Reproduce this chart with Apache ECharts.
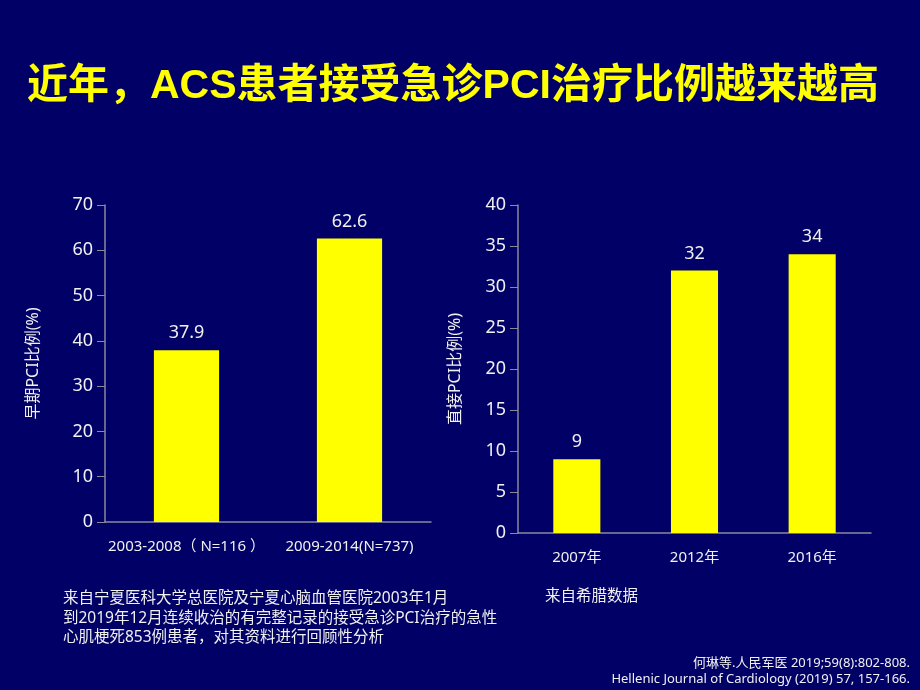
<!DOCTYPE html>
<html><head><meta charset="utf-8">
<script src="https://cdn.jsdelivr.net/npm/echarts@6/dist/echarts.min.js"></script>
<style>html,body{margin:0;padding:0;background:#000066;}#c{width:920px;height:690px;}</style>
</head><body><div id="c"></div>
<script>
const titleText = '近年，ACS患者接受急诊PCI治疗比例越来越高';
const leftCategories = ['2003-2008（ N=116 ）', '2009-2014(N=737)'];
const leftValues = [37.9, 62.6];
const leftAxisName = '早期PCI比例(%)';
const rightCategories = ['2007年', '2012年', '2016年'];
const rightValues = [9, 32, 34];
const rightAxisName = '直接PCI比例(%)';
const leftNote = ['来自宁夏医科大学总医院及宁夏心脑血管医院2003年1月', '到2019年12月连续收治的有完整记录的接受急诊PCI治疗的急性', '心肌梗死853例患者，对其资料进行回顾性分析'];
const rightNote = '来自希腊数据';
const refs = ['何琳等.人民军医 2019;59(8):802-808.', 'Hellenic Journal of Cardiology (2019) 57, 157-166.'];

const FONT = '"Noto Sans", "Noto Sans CJK SC", sans-serif';
const axisLineStyle = {lineStyle: {color: '#8a8a9a', width: 1.5}};
const chart = echarts.init(document.getElementById('c'));
chart.setOption({
  backgroundColor: '#000066',
  animation: false,
  title: {text: titleText, left: 22, top: 61,
    textStyle: {color: '#ffff00', fontSize: 41, fontWeight: 'bold', fontFamily: '"Liberation Sans", Arial, "Noto Sans CJK SC", sans-serif'}},
  grid: [
    {left: 105, width: 326, top: 205, height: 317},
    {left: 518, width: 353, top: 205, height: 328}
  ],
  xAxis: [
    {type: 'category', gridIndex: 0, data: leftCategories, axisLine: axisLineStyle,
     axisTick: {lineStyle: {color: '#8a8a9a'}, length: 6},
     axisLabel: {color: '#f0f0f0', fontSize: 15, fontFamily: FONT, margin: 17, interval: 0}},
    {type: 'category', gridIndex: 1, data: rightCategories, axisLine: axisLineStyle,
     axisTick: {lineStyle: {color: '#8a8a9a'}, length: 6},
     axisLabel: {color: '#f0f0f0', fontSize: 15, fontFamily: FONT, margin: 17, interval: 0}}
  ],
  yAxis: [
    {type: 'value', gridIndex: 0, min: 0, max: 70, interval: 10, splitLine: {show: false},
     axisLine: {show: true, lineStyle: {color: '#8a8a9a', width: 1.5}},
     axisTick: {show: true, lineStyle: {color: '#8a8a9a'}, length: 8},
     axisLabel: {color: '#f0f0f0', fontSize: 18, fontFamily: FONT, margin: 12},
     name: leftAxisName, nameLocation: 'middle', nameGap: 64, nameRotate: 90,
     nameTextStyle: {color: '#f0f0f0', fontSize: 16, fontFamily: FONT}},
    {type: 'value', gridIndex: 1, min: 0, max: 40, interval: 5, splitLine: {show: false},
     axisLine: {show: true, lineStyle: {color: '#8a8a9a', width: 1.5}},
     axisTick: {show: true, lineStyle: {color: '#8a8a9a'}, length: 8},
     axisLabel: {color: '#f0f0f0', fontSize: 18, fontFamily: FONT, margin: 12},
     name: rightAxisName, nameLocation: 'middle', nameGap: 55, nameRotate: 90,
     nameTextStyle: {color: '#f0f0f0', fontSize: 16, fontFamily: FONT}}
  ],
  series: [
    {type: 'bar', xAxisIndex: 0, yAxisIndex: 0, data: leftValues, barWidth: '40%',
     itemStyle: {color: '#ffff00'},
     label: {show: true, position: 'top', distance: 8, color: '#f0f0f0', fontSize: 18, fontFamily: FONT}},
    {type: 'bar', xAxisIndex: 1, yAxisIndex: 1, data: rightValues, barWidth: '40%',
     itemStyle: {color: '#ffff00'},
     label: {show: true, position: 'top', distance: 8, color: '#f0f0f0', fontSize: 18, fontFamily: FONT}}
  ],
  graphic: [
    {type: 'text', left: 63, top: 589, style: {text: leftNote.join('\n'), fill: '#f0f0f0', fontSize: 15.5, lineHeight: 19.5, fontFamily: FONT}},
    {type: 'text', left: 545, top: 589, style: {text: rightNote, fill: '#f0f0f0', fontSize: 15.5, fontFamily: FONT}},
    {type: 'text', right: 10, top: 655, style: {text: refs.join('\n'), fill: '#f0f0f0', fontSize: 13, lineHeight: 16, textAlign: 'right', fontFamily: FONT}}
  ]
});
</script></body></html>
